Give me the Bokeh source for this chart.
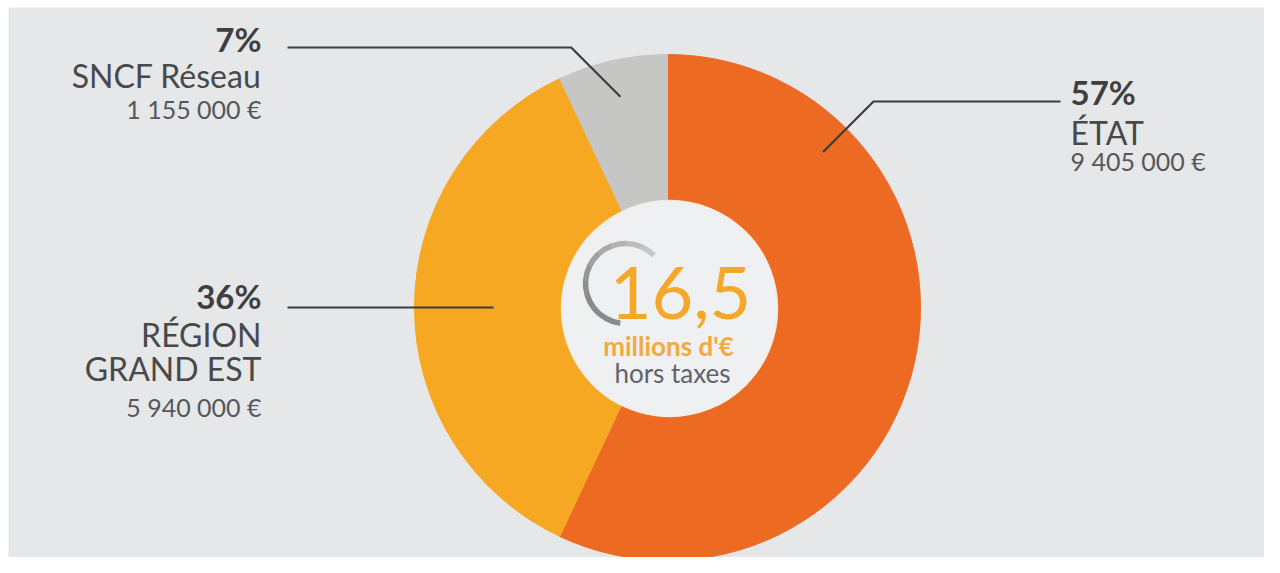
import math
from bokeh.plotting import figure
from bokeh.models import Range1d, ColumnDataSource
from bokeh.core.properties import value
from bokeh.embed import file_html
from bokeh.resources import INLINE

# ---------------- data ----------------
categories = ["ÉTAT", "RÉGION GRAND EST", "SNCF Réseau"]
name_lines = [["ÉTAT"], ["RÉGION", "GRAND EST"], ["SNCF Réseau"]]
amounts = [9405000, 5940000, 1155000]
total_label = "16,5"
total_unit = "millions d'€"
total_note = "hors taxes"

# ---------------- style / layout ----------------
colors = ["#ec6a22", "#f7a823", "#c6c6c5"]
BG = "#e6e7e8"
FONT = "Lato"
IMG_H = 573
W, H = 1264, 557
SHIFT_Y = 3          # screen y = image y - SHIFT_Y
BORDER_L, BORDER_T = 8, 7
K_BASE = 0.37        # baseline correction (fraction of font size)


def Y(yimg):
    return IMG_H - yimg


def YB(baseline_img, fs):
    # data y for a text whose alphabetic baseline should sit at image y
    return Y(baseline_img - K_BASE * fs)


CX, CY, R = 667, Y(310), 253

p = figure(width=W, height=H,
           x_range=Range1d(BORDER_L, W),
           y_range=Range1d(Y(H + SHIFT_Y), Y(BORDER_T + SHIFT_Y)),
           output_backend="svg", toolbar_location=None,
           x_axis_type=None, y_axis_type=None,
           min_border_left=BORDER_L, min_border_top=BORDER_T, min_border_right=0, min_border_bottom=0,
           background_fill_color=BG, border_fill_color="white", outline_line_color=None)

total = sum(amounts)
fracs = [a / total for a in amounts]
cum = [0]
for f in fracs:
    cum.append(cum[-1] + f)
starts = [math.pi / 2 - 2 * math.pi * cum[i] for i in range(len(fracs))]
ends = [math.pi / 2 - 2 * math.pi * cum[i + 1] for i in range(len(fracs))]

src = ColumnDataSource(dict(x=[CX] * 3, y=[CY] * 3, start=starts, end=ends, color=colors))
p.wedge(x="x", y="y", radius=R, start_angle="start", end_angle="end", direction="clock",
        fill_color="color", line_color="color", line_width=1, source=src)

# inner disc
p.circle(x=[CX + 2], y=[Y(311)], radius=108, fill_color="#eff0f2", line_color="#f3ece4", line_width=1.5)

# gray arc icon
nseg = 10
a0, a1 = math.radians(45), math.radians(262)
c_light, c_dark = (0xc6, 0xc6, 0xc6), (0x8a, 0x8a, 0x8a)
for i in range(nseg):
    t = i / (nseg - 1)
    col = "#%02x%02x%02x" % tuple(int(c_light[k] + (c_dark[k] - c_light[k]) * min(1, t * 1.4)) for k in range(3))
    sa = a0 + (a1 - a0) * i / nseg
    ea = a0 + (a1 - a0) * (i + 1) / nseg + 0.01
    p.arc(x=[625], y=[Y(286)], radius=40, start_angle=sa, end_angle=ea, direction="anticlock",
          line_color=col, line_width=5.5)

# center texts
p.text(x=[680], y=[YB(322, 72)], text=[total_label], text_font=value(FONT), text_font_size="72px",
       text_color="#f5a72a", text_align="center", text_baseline="alphabetic")
p.text(x=[668], y=[YB(358, 26)], text=[total_unit], text_font=value(FONT), text_font_size="26px",
       text_font_style="bold", text_color="#f3aa3c", text_align="center", text_baseline="alphabetic")
p.text(x=[672], y=[YB(385, 26)], text=[total_note], text_font=value(FONT), text_font_size="26px",
       text_color="#5e646c", text_align="center", text_baseline="alphabetic")

# ---------------- labels & leaders ----------------
layout = [
    dict(x=1070, align="left", pct_y=107, name_y=[147], amt_y=173, ang=45, rad=220, ly=104, lx=1060),
    dict(x=261, align="right", pct_y=311, name_y=[349, 383], amt_y=419, ang=None, rad=174, ly=310, lx=287),
    dict(x=261, align="right", pct_y=54, name_y=[90], amt_y=121, ang=None, rad=216, ly=50, lx=287),
]
PCT_FS, NAME_FS, AMT_FS = 33, 32, 25


def fmt_amount(a):
    s = f"{a:,}".replace(",", " ")
    return s + " €"


for i, L in enumerate(layout):
    pct = f"{round(fracs[i] * 100)}%"
    p.text(x=[L["x"]], y=[YB(L["pct_y"], PCT_FS)], text=[pct], text_font=value(FONT),
           text_font_size=f"{PCT_FS}px", text_font_style="bold", text_color="#3f3f40",
           text_align=L["align"], text_baseline="alphabetic")
    for ln, yy in zip(name_lines[i], L["name_y"]):
        p.text(x=[L["x"]], y=[YB(yy, NAME_FS)], text=[ln], text_font=value(FONT),
               text_font_size=f"{NAME_FS}px", text_color="#48494b",
               text_align=L["align"], text_baseline="alphabetic")
    p.text(x=[L["x"]], y=[YB(L["amt_y"], AMT_FS)], text=[fmt_amount(amounts[i])], text_font=value(FONT),
           text_font_size=f"{AMT_FS}px", text_color="#55575a",
           text_align=L["align"], text_baseline="alphabetic")

    # leader line
    ang = L["ang"] if L["ang"] is not None else 360 * (cum[i] + cum[i + 1]) / 2
    th = math.radians(ang)
    axp = CX + L["rad"] * math.sin(th)
    ayp = CY + L["rad"] * math.cos(th)
    dy = Y(L["ly"]) - ayp
    sign = 1 if math.sin(th) >= 0 else -1
    exp = axp + sign * abs(dy)
    p.line(x=[axp, exp, L["lx"]], y=[ayp, Y(L["ly"]), Y(L["ly"])], line_color="#3c3d3f", line_width=2.2)

open("out.html", "w").write(file_html(p, INLINE))
